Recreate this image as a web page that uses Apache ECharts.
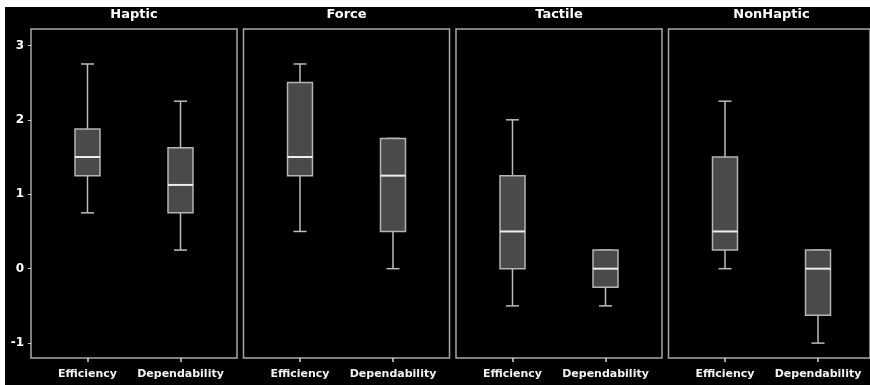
<!DOCTYPE html>
<html>
<head>
<meta charset="utf-8">
<script src="https://cdn.jsdelivr.net/npm/echarts@6/dist/echarts.min.js"></script>
<style>
  html, body { margin: 0; padding: 0; background: #ffffff; }
  #chart { position: absolute; left: 5px; top: 7px; width: 865px; height: 378px; background: #000; }
</style>
</head>
<body>
<div id="chart"></div>
<script>
// Panel titles and x categories
const panels = ['Haptic', 'Force', 'Tactile', 'NonHaptic'];
const measures = ['Efficiency', 'Dependability'];
const yTicks = [-1, 0, 1, 2, 3];

// Box statistics: [min, Q1, median, Q3, max]
const hapticEfficiency     = [0.75, 1.25, 1.5, 1.875, 2.75];
const hapticDependability  = [0.25, 0.75, 1.125, 1.625, 2.25];
const forceEfficiency      = [0.5, 1.25, 1.5, 2.5, 2.75];
const forceDependability   = [0, 0.5, 1.25, 1.75, 1.75];
const tactileEfficiency    = [-0.5, 0, 0.5, 1.25, 2];
const tactileDependability = [-0.5, -0.25, 0, 0.25, 0.25];
const nonHapticEfficiency    = [0, 0.25, 0.5, 1.5, 2.25];
const nonHapticDependability = [-1, -0.625, 0, 0.25, 0.25];

const panelData = [
  [hapticEfficiency, hapticDependability],
  [forceEfficiency, forceDependability],
  [tactileEfficiency, tactileDependability],
  [nonHapticEfficiency, nonHapticDependability]
];

const Y_MIN = -1.2, Y_MAX = 3.22;
const PANEL_STEP = 212.5, PANEL_W = 206, INSET = 10;
const TOP = 22, HEIGHT = 329;

const chart = echarts.init(document.getElementById('chart'));

function renderBox(params, api) {
  const c = api.value(0);
  const pMin = api.coord([c, api.value(1)]);
  const pQ1 = api.coord([c, api.value(2)]);
  const pMed = api.coord([c, api.value(3)]);
  const pQ3 = api.coord([c, api.value(4)]);
  const pMax = api.coord([c, api.value(5)]);
  const x = pMed[0];
  const bw = 25, cw = 13;
  const line = { stroke: '#bcbcbc', lineWidth: 1.5 };
  return {
    type: 'group',
    children: [
      { type: 'line', shape: { x1: x, y1: pMax[1], x2: x, y2: pQ3[1] }, style: line },
      { type: 'line', shape: { x1: x, y1: pQ1[1], x2: x, y2: pMin[1] }, style: line },
      { type: 'line', shape: { x1: x - cw / 2, y1: pMax[1], x2: x + cw / 2, y2: pMax[1] }, style: line },
      { type: 'line', shape: { x1: x - cw / 2, y1: pMin[1], x2: x + cw / 2, y2: pMin[1] }, style: line },
      { type: 'rect', shape: { x: x - bw / 2, y: pQ3[1], width: bw, height: pQ1[1] - pQ3[1] },
        style: { fill: '#4a4a4a', stroke: '#b4b4b4', lineWidth: 1.5 } },
      { type: 'line', shape: { x1: x - bw / 2, y1: pMed[1], x2: x + bw / 2, y2: pMed[1] },
        style: { stroke: '#ededed', lineWidth: 2 } }
    ]
  };
}

const grid = [], xAxis = [], yAxis = [], series = [], title = [];
panels.forEach((name, i) => {
  const left = 26 + PANEL_STEP * i;
  // frame grid
  grid.push({ left: left, top: TOP, width: PANEL_W, height: HEIGHT, show: true,
    borderColor: '#a8a8a8', borderWidth: 1.5, backgroundColor: 'transparent' });
  // data grid
  grid.push({ left: left + INSET, top: TOP, width: PANEL_W - 2 * INSET, height: HEIGHT });

  xAxis.push({ gridIndex: 2 * i, type: 'value', show: false, min: 0, max: 1 });
  yAxis.push({ gridIndex: 2 * i, type: 'value', min: Y_MIN, max: Y_MAX, interval: 1,
    show: i === 0,
    axisLine: { show: false }, splitLine: { show: false },
    axisTick: { show: true, length: 3, lineStyle: { color: '#cccccc', width: 1 },
      customValues: yTicks },
    axisLabel: { color: '#ffffff', fontSize: 12, fontWeight: 'bold', margin: 7,
      fontFamily: 'DejaVu Sans', customValues: yTicks, formatter: v => String(v) } });

  xAxis.push({ gridIndex: 2 * i + 1, type: 'category', data: measures, position: 'bottom',
    axisLine: { show: false, onZero: false }, splitLine: { show: false },
    axisTick: { show: true, alignWithLabel: true, interval: 0, length: 4,
      lineStyle: { color: '#d8d8d8', width: 1.5 } },
    axisLabel: { color: '#f4f4f4', fontSize: 11, fontWeight: 'bold', fontFamily: 'DejaVu Sans',
      margin: 11, interval: 0, hideOverlap: false } });
  yAxis.push({ gridIndex: 2 * i + 1, type: 'value', min: Y_MIN, max: Y_MAX, show: false });

  series.push({
    type: 'custom', xAxisIndex: 2 * i + 1, yAxisIndex: 2 * i + 1,
    renderItem: renderBox,
    encode: { x: 0, y: [1, 2, 3, 4, 5] },
    data: panelData[i].map((s, k) => [k].concat(s)),
    silent: true
  });

  title.push({ text: name, left: left + PANEL_W / 2, top: 1, textAlign: 'center', padding: 0,
    textStyle: { color: '#ffffff', fontSize: 13, fontWeight: 'bold', fontFamily: 'DejaVu Sans' } });
});

chart.setOption({
  backgroundColor: '#000000',
  animation: false,
  title: title,
  grid: grid,
  xAxis: xAxis,
  yAxis: yAxis,
  series: series
});
</script>
</body>
</html>
